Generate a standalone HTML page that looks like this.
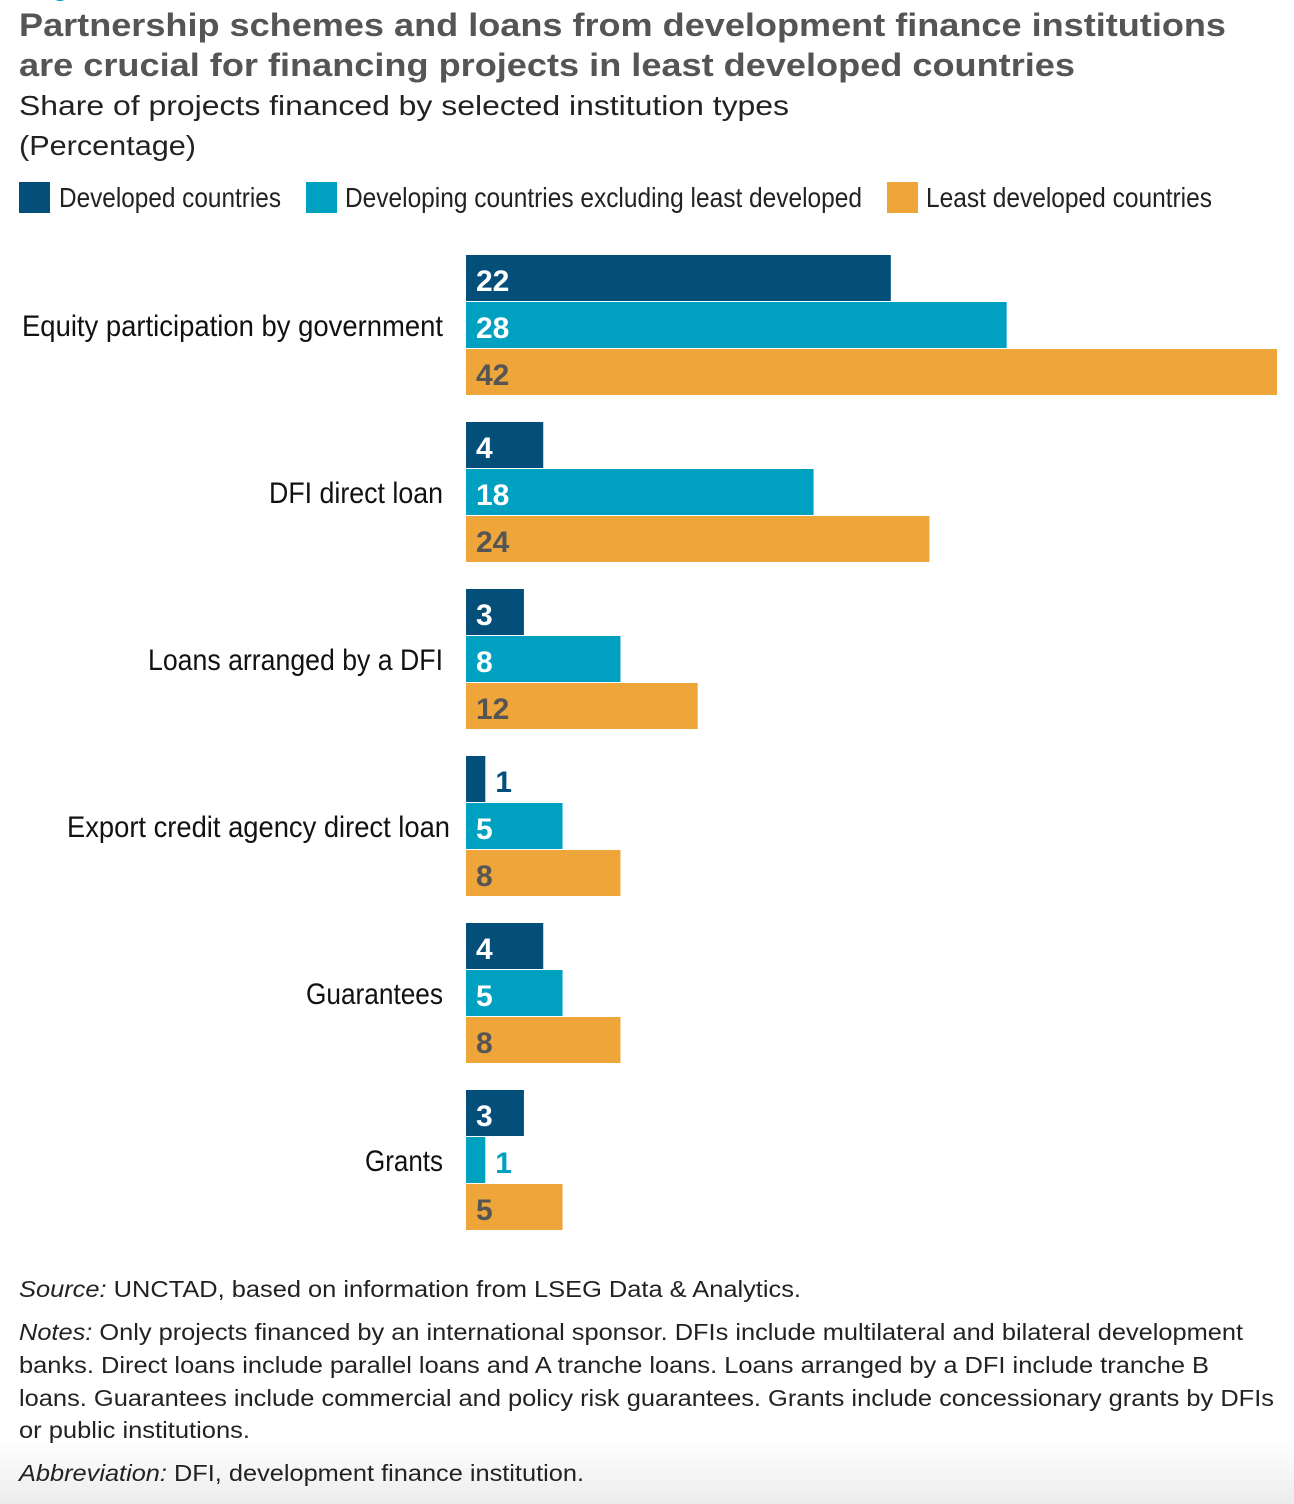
<!DOCTYPE html>
<html><head><meta charset="utf-8"><style>
html,body{margin:0;padding:0;background:#fff;}
body{width:1294px;height:1504px;overflow:hidden;position:relative;font-family:"Liberation Sans",sans-serif;}
svg{position:absolute;left:0;top:0;}
</style></head><body>
<svg id="chart" width="1294" height="1504" viewBox="0 0 1294 1504">
<defs><linearGradient id="fade" x1="0" y1="0" x2="0" y2="1"><stop offset="0" stop-color="#fff"/><stop offset="1" stop-color="#ececec"/></linearGradient></defs>
<rect x="0" y="1440" width="1294" height="64" fill="url(#fade)"/>
<circle cx="60" cy="-8" r="9" fill="#0099c6"/>
<g font-weight="bold" font-size="32.5" fill="#555">
<text x="19" y="36" textLength="1207" lengthAdjust="spacingAndGlyphs">Partnership schemes and loans from development finance institutions</text>
<text x="19" y="76" textLength="1056" lengthAdjust="spacingAndGlyphs">are crucial for financing projects in least developed countries</text>
</g>
<text x="19" y="115" font-size="28" fill="#222" textLength="770" lengthAdjust="spacingAndGlyphs">Share of projects financed by selected institution types</text>
<text x="19" y="155" font-size="28" fill="#222" textLength="177" lengthAdjust="spacingAndGlyphs">(Percentage)</text>
<g font-size="28" fill="#222">
<g><rect x="19" y="182" width="31" height="31" fill="#034f7a"/><text x="59" y="207" textLength="222" lengthAdjust="spacingAndGlyphs">Developed countries</text></g>
<g><rect x="306" y="182" width="31" height="31" fill="#00a0c1"/><text x="345" y="207" textLength="517" lengthAdjust="spacingAndGlyphs">Developing countries excluding least developed</text></g>
<g><rect x="887" y="182" width="31" height="31" fill="#eea63a"/><text x="926" y="207" textLength="286" lengthAdjust="spacingAndGlyphs">Least developed countries</text></g>
</g>
<g id="bars"></g>
<g font-size="23" fill="#222">
<text x="19" y="1297" textLength="782" lengthAdjust="spacingAndGlyphs"><tspan font-style="italic">Source:</tspan> UNCTAD, based on information from LSEG Data &amp; Analytics.</text>
<text x="19" y="1340" textLength="1224" lengthAdjust="spacingAndGlyphs"><tspan font-style="italic">Notes:</tspan> Only projects financed by an international sponsor. DFIs include multilateral and bilateral development</text>
<text x="19" y="1373" textLength="1190" lengthAdjust="spacingAndGlyphs">banks. Direct loans include parallel loans and A tranche loans. Loans arranged by a DFI include tranche B</text>
<text x="19" y="1406" textLength="1255" lengthAdjust="spacingAndGlyphs">loans. Guarantees include commercial and policy risk guarantees. Grants include concessionary grants by DFIs</text>
<text x="19" y="1438" textLength="231" lengthAdjust="spacingAndGlyphs">or public institutions.</text>
<text x="19" y="1481" textLength="565" lengthAdjust="spacingAndGlyphs"><tspan font-style="italic">Abbreviation:</tspan> DFI, development finance institution.</text>
</g>
</svg>
<script>
const categories = ["Equity participation by government","DFI direct loan","Loans arranged by a DFI","Export credit agency direct loan","Guarantees","Grants"];
const developed = [22,4,3,1,4,3];
const developing = [28,18,8,5,5,1];
const ldc = [42,24,12,8,8,5];
const labelWidths = [421,174,295,383,137,78];
const seriesList=[{v:developed,c:"#034f7a",t:"#fff",n:"developed"},{v:developing,c:"#00a0c1",t:"#fff",n:"developing"},{v:ldc,c:"#eea63a",t:"#555",n:"ldc"}];
const x0=466, xMax=42, xEnd=1277;
function xs(v){return x0+(xEnd-x0)*v/xMax;}
function ys(i,s){return 255+i*167+s*47;}
const NS="http://www.w3.org/2000/svg";
const g=document.getElementById('bars');
categories.forEach((cat,i)=>{
  const lab=document.createElementNS(NS,'text');
  
  
  const right = i===3?450:443;
  lab.setAttribute('x',right);lab.setAttribute('y',ys(i,1)+34);
  lab.setAttribute('text-anchor','end');lab.setAttribute('font-size','30');lab.setAttribute('fill','#111');
  lab.setAttribute('textLength',labelWidths[i]);lab.setAttribute('lengthAdjust','spacingAndGlyphs');
  lab.textContent=cat;g.appendChild(lab);
  seriesList.forEach((s,si)=>{
    const v=s.v[i];
    const r=document.createElementNS(NS,'rect');
    
    
    r.setAttribute('x',x0);r.setAttribute('y',ys(i,si));
    r.setAttribute('width',xs(v)-x0);r.setAttribute('height',46);r.setAttribute('fill',s.c);
    g.appendChild(r);
    const t=document.createElementNS(NS,'text');
    
    
    const inside = xs(v)-x0 > 30;
    t.setAttribute('x', inside ? 476 : xs(v)+10);
    t.setAttribute('y', ys(i,si)+36);
    t.setAttribute('font-size','30');t.setAttribute('font-weight','bold');
    t.setAttribute('fill', inside ? s.t : s.c);
    t.textContent=v;g.appendChild(t);
  });
});
</script>
</body></html>
